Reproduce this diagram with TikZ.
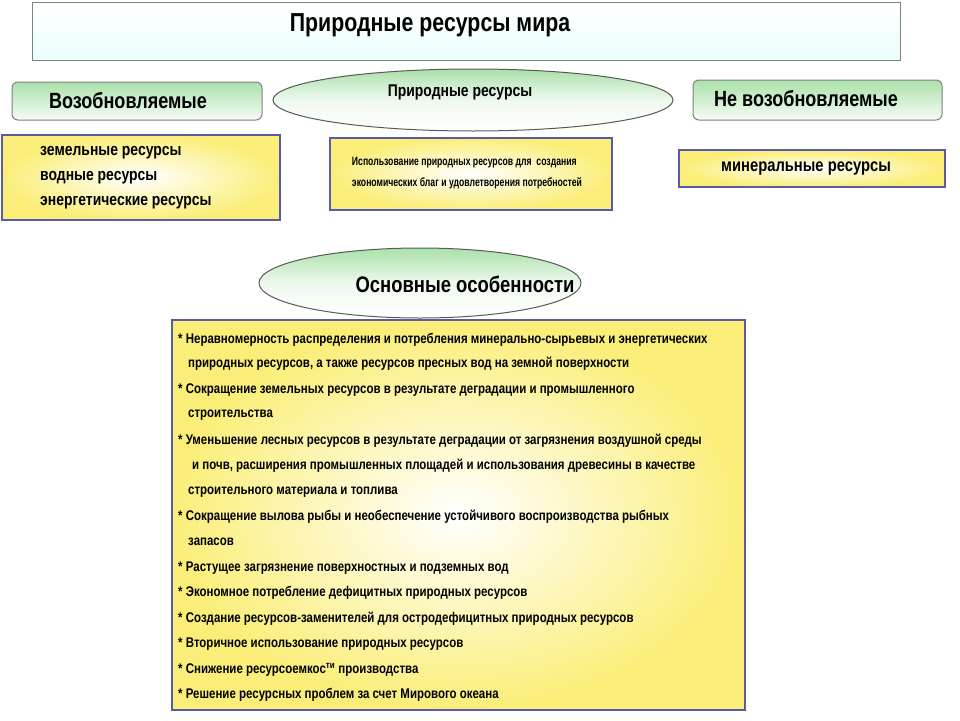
\documentclass[tikz,border=0pt]{standalone}
\usepackage{fontspec}
\setmainfont[FakeStretch=0.82]{Liberation Sans}
\usetikzlibrary{shapes.geometric}
\definecolor{yel}{RGB}{250,238,120}
\definecolor{bord}{RGB}{90,90,170}
\definecolor{grn}{RGB}{170,225,170}
\tikzset{
 ybox/.style={draw=bord,line width=1.6pt,inner color=white,outer color=yel},
 gbox/.style={draw=gray,line width=1pt,rounded corners=6pt,top color=grn,bottom color=white!90!grn},
 oval/.style={ellipse,draw=gray!70!black,line width=1pt,top color=grn,bottom color=white,middle color=white!80!grn},
 txt/.style={font=\fontsize{14}{16}\selectfont\bfseries,anchor=west,inner sep=0pt},
 ltxt/.style={font=\fontsize{17}{19}\selectfont\bfseries,anchor=west,inner sep=0pt},
}
\begin{document}
\begin{tikzpicture}[x=1pt,y=-1pt]
\useasboundingbox[fill=white] (0,0) rectangle (960,720);
\draw[gray,line width=1pt,top color=white,bottom color=cyan!8] (32,2) rectangle (900,60);
\node[font=\fontsize{26}{28}\selectfont\bfseries] (title) at (430,25) {Природные ресурсы мира};
\draw[gbox] (12,82) rectangle (262,120);
\node[font=\fontsize{22}{24}\selectfont\bfseries] (ren) at (128,101) {Возобновляемые};
\draw[gbox] (693,80) rectangle (942,120);
\node[font=\fontsize{22}{24}\selectfont\bfseries] (nren) at (806,99) {Не возобновляемые};
\node[oval,minimum width=400,minimum height=62] (nr) at (473,100) {};
\node[font=\fontsize{17}{19}\selectfont\bfseries] at (460,92) {Природные ресурсы};
\draw[ybox] (2,135) rectangle (280,220);
\node[ltxt] (l1) at (40,153) {земельные ресурсы};
\node[ltxt] (l2) at (40,178) {водные ресурсы};
\node[ltxt] (l3) at (40,203) {энергетические ресурсы};
\draw[ybox] (330,138) rectangle (612,210);
\node[font=\fontsize{12}{21}\selectfont\bfseries,align=left,xscale=0.88] (mid) at (467,173) {Использование природных ресурсов для\ \ создания\\экономических благ и удовлетворения потребностей};
\draw[ybox] (679,150) rectangle (945,187);
\node[font=\fontsize{18}{20}\selectfont\bfseries] (min) at (806,169) {минеральные ресурсы};
\node[oval,minimum width=322,minimum height=70] (oo) at (420,283) {};
\node[font=\fontsize{22.5}{24}\selectfont\bfseries] at (465,284) {Основные особенности};
\draw[ybox] (172,320) rectangle (745,710);
\foreach \y/\x/\t in {
340/178/{* Неравномерность распределения и потребления минерально-сырьевых и энергетических},
364/188/{природных ресурсов, а также ресурсов пресных вод на земной поверхности},
390/178/{* Сокращение земельных ресурсов в результате деградации и промышленного},
415/188/{строительства},
441/178/{* Уменьшение лесных ресурсов в результате деградации от загрязнения воздушной среды},
466/192/{и почв, расширения промышленных площадей и использования древесины в качестве},
492/188/{строительного материала и топлива},
517/178/{* Сокращение вылова рыбы и необеспечение устойчивого воспроизводства рыбных},
542/188/{запасов},
568/178/{* Растущее загрязнение поверхностных и подземных вод},
593/178/{* Экономное потребление дефицитных природных ресурсов},
619/178/{* Создание ресурсов-заменителей для остродефицитных природных ресурсов},
644/178/{* Вторичное использование природных ресурсов},
670/178/{* Снижение ресурсоемкос\textsuperscript{ти} производства},
695/178/{* Решение ресурсных проблем за счет Мирового океана}}
{\node[txt] at (\x,\y) {\t};}
\end{tikzpicture}
\end{document}
